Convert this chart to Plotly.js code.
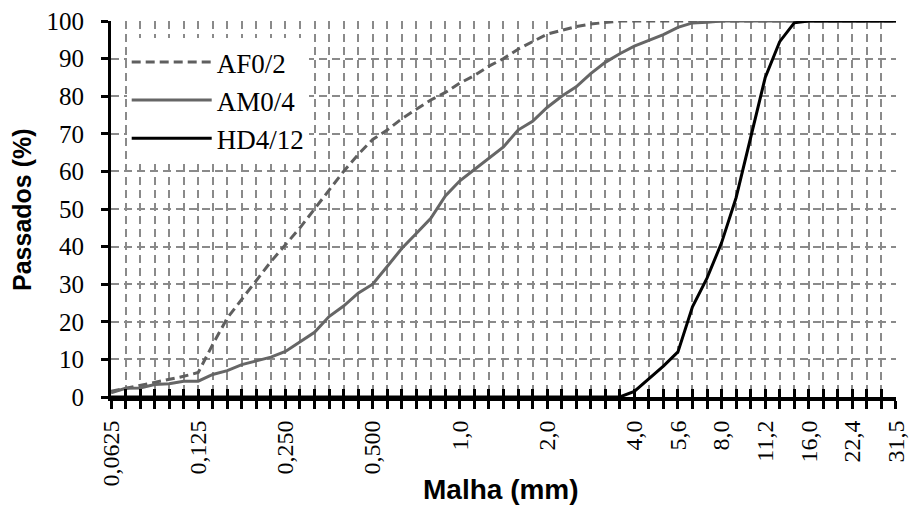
<!DOCTYPE html>
<html><head><meta charset="utf-8">
<script src="https://cdn.plot.ly/plotly-3.0.1.min.js"></script>
<style>
html,body{margin:0;padding:0;background:#fff}
#chart{width:909px;height:506px}
</style>
</head><body><div id="chart"></div>
<script>
// Sieve steps (category positions, 55 sieves), labelled sieves and their labels
const meshSteps = Array.from({length: 55}, (_, i) => i);
const tickSteps = [0, 6, 12, 18, 24, 30, 36, 39, 42, 45, 48, 51, 54];
const tickLabels = ['0,0625','0,125','0,250','0,500','1,0','2,0','4,0','5,6','8,0','11,2','16,0','22,4','31,5'];

// Percent passing for each sieve
const af02 = [1.5, 2.3, 3.0, 3.8, 4.6, 5.5, 6.5, 14, 21, 26, 31, 36, 40.5, 45, 50, 55, 60, 64.5, 68.5, 71,
  74, 76.5, 79, 81, 83.5, 85.5, 88, 90, 92.5, 94.5, 96.5, 97.5, 98.5, 99.2, 99.6, 100,
  100, 100, 100, 100, 100, 100, 100, 100, 100, 100, 100, 100, 100, 100, 100, 100, 100, 100, 100];
const am04 = [1.1, 2.3, 2.4, 3.3, 3.5, 4.2, 4.2, 6.0, 7.0, 8.6, 9.6, 10.6, 12.1, 14.7, 17.2, 21.4, 24.2, 27.6, 30, 34.7,
  39.5, 43.5, 47.5, 53.5, 57.5, 60.5, 63.5, 66.5, 71, 73.3, 77, 80, 82.5, 86, 89, 91.3, 93.3, 94.8, 96.4, 98.3,
  99.5, 99.7, 100, 100, 100, 100, 100, 100, 100, 100, 100, 100, 100, 100, 100];
const hd412 = [0, 0, 0, 0, 0, 0, 0, 0, 0, 0, 0, 0, 0, 0, 0, 0, 0, 0, 0, 0,
  0, 0, 0, 0, 0, 0, 0, 0, 0, 0, 0, 0, 0, 0, 0, 0,
  1.5, 4.8, 8.2, 12, 24, 31.6, 41, 53, 69, 84.9, 94.5, 99.5,
  100, 100, 100, 100, 100, 100, 100];
const seriesNames = ['AF0/2', 'AM0/4', 'HD4/12'];

const tickText = meshSteps.map(s => { const k = tickSteps.indexOf(s); return k >= 0 ? tickLabels[k] : ''; });
const serif = 'Times New Roman';
const sans = 'Arial';

const traces = [
  {x: meshSteps, y: af02, name: seriesNames[0], type: 'scatter', mode: 'lines', legendgroup: 'a',
   line: {color: '#5f5f5f', width: 3, dash: '9px,5px'}},
  {x: meshSteps, y: am04, name: seriesNames[1], type: 'scatter', mode: 'lines', legendgroup: 'b',
   line: {color: '#666666', width: 3}},
  {x: meshSteps, y: hd412, name: seriesNames[2], type: 'scatter', mode: 'lines', legendgroup: 'c',
   line: {color: '#000000', width: 3}},
  // carrier for the inner half of the cross tick marks (invisible)
  {x: meshSteps, y: hd412, xaxis: 'x2', yaxis: 'y', type: 'scatter', mode: 'lines', showlegend: false,
   hoverinfo: 'skip', opacity: 0, line: {width: 0, color: 'rgba(0,0,0,0)'}}
];

const gridCol = '#8a8a8a';
const xr = [0, 54.001];
const layout = {
  width: 909, height: 506,
  margin: {l: 111, r: 13, t: 21, b: 109},
  paper_bgcolor: '#ffffff', plot_bgcolor: '#ffffff',
  font: {family: serif, color: '#000'},
  showlegend: true,
  xaxis: {
    range: xr, tickmode: 'array', tickvals: meshSteps, ticktext: tickText,
    tickangle: -90, tickfont: {size: 24, family: serif, color: '#000'},
    ticks: 'outside', ticklen: 8, tickwidth: 3, tickcolor: '#000',
    showline: true, linewidth: 4, linecolor: '#000',
    showgrid: true, gridcolor: gridCol, gridwidth: 2, griddash: '8px,5px',
    zeroline: false, ticklabelstandoff: 2
  },
  xaxis2: {
    range: xr, overlaying: 'x', anchor: 'y', side: 'bottom', tickmode: 'array', tickvals: meshSteps,
    ticks: 'inside', ticklen: 8, tickwidth: 3, tickcolor: '#000', showticklabels: false,
    showgrid: false, showline: false, zeroline: false
  },
  yaxis: {
    range: [0, 100], tickmode: 'linear', tick0: 0, dtick: 10,
    tickfont: {size: 25, family: serif, color: '#000'},
    ticks: 'outside', ticklen: 7, tickwidth: 3, tickcolor: '#000',
    showline: true, linewidth: 3, linecolor: '#000',
    showgrid: true, gridcolor: gridCol, gridwidth: 2, griddash: '8px,5px',
    zeroline: false, ticklabelstandoff: 12
  },
  legend: {
    x: 0.02, y: 0.955, xanchor: 'left', yanchor: 'top',
    bgcolor: '#ffffff', borderwidth: 0,
    font: {family: serif, size: 27, color: '#000'},
    itemwidth: 80, tracegroupgap: 0
  },
  annotations: [
    {text: '<b>Malha (mm)</b>', xref: 'paper', yref: 'paper', x: 0.497, y: -0.247,
     xanchor: 'center', yanchor: 'middle', showarrow: false,
     font: {family: sans, size: 28, color: '#000'}},
    {text: '<b>Passados (%)</b>', xref: 'paper', yref: 'paper', x: -0.1134, y: 0.50,
     xanchor: 'center', yanchor: 'middle', showarrow: false, textangle: -90,
     font: {family: sans, size: 25, color: '#000'}}
  ]
};

Plotly.newPlot('chart', traces, layout, {staticPlot: true, displayModeBar: false});
</script></body></html>
